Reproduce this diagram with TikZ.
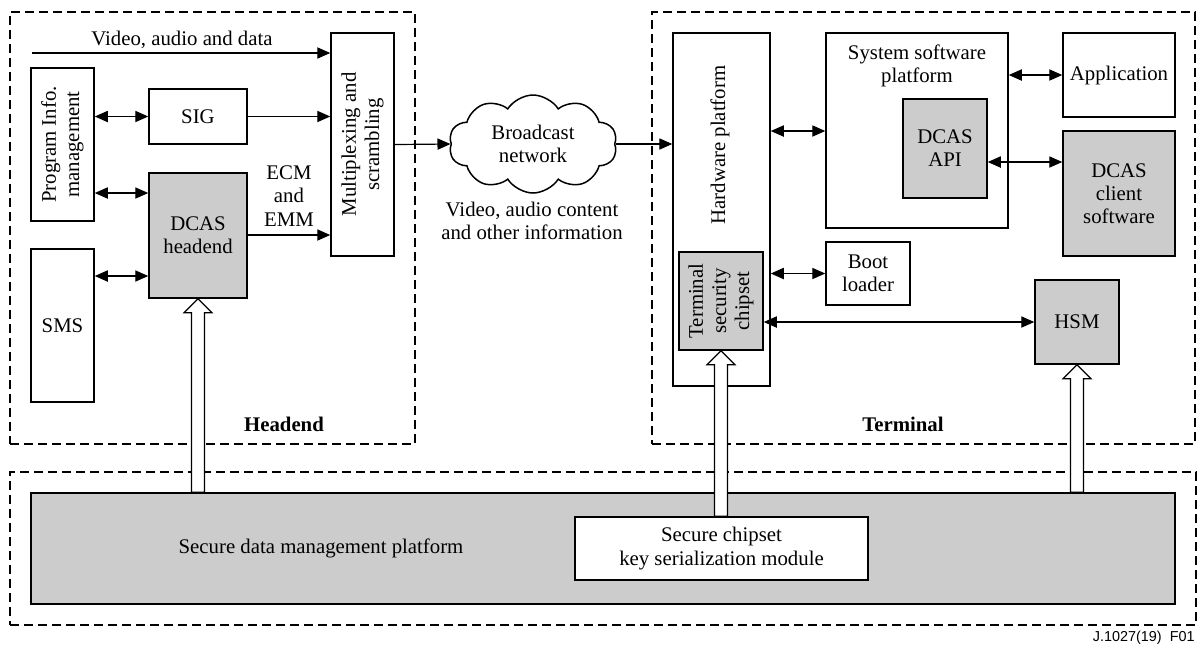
\documentclass[tikz,border=0pt]{standalone}
\usepackage{fontspec}
\setmainfont{Liberation Serif}
\newfontfamily\figsans{Liberation Sans}
\usetikzlibrary{arrows.meta,shapes.symbols,calc}
\definecolor{boxgray}{RGB}{204,204,204}
\tikzset{
  base/.style={font=\fontsize{10.4}{11.6}\selectfont, align=center, inner sep=0pt},
  box/.style={base, draw, line width=0.75pt, fill=white},
  graybox/.style={box, fill=boxgray},
  region/.style={draw, line width=0.6pt, dash pattern=on 4.5pt off 2.5pt, inner sep=0pt},
  lbl/.style={base},
  tip/.tip={Triangle[length=6.5pt,width=5.6pt]},
  one/.style={line width=0.6pt, -tip},
  two/.style={line width=0.6pt, tip-tip},
  hollow/.style={draw, line width=0.6pt, fill=white},
}
\newcommand{\hollowup}[2]{%
  \path[hollow] let \p1=(#1), \p2=(#2) in
    (\x1,\y1) -- (\x1+7pt,\y1-7pt) -- (\x1+3.25pt,\y1-7pt) -- (\x1+3.25pt,\y2)
    -- (\x1-3.25pt,\y2) -- (\x1-3.25pt,\y1-7pt) -- (\x1-7pt,\y1-7pt) -- cycle;}
\begin{document}
\begin{tikzpicture}[x=0.5pt,y=-0.5pt]
\useasboundingbox (0,0) rectangle (1198,645);
% regions
\node[region, minimum width=202.5pt, minimum height=216pt] (headreg) at (212.5,228) {};
\node[region, minimum width=271.5pt, minimum height=216pt] (termreg) at (923.5,228) {};
\node[region, minimum width=593pt, minimum height=76.5pt] (botreg) at (603,548.5) {};
% headend
\node[box, minimum width=31.5pt, minimum height=111.5pt] (mux) at (362.5,144.5) {};
\node[base, rotate=90] at (mux.center) {Multiplexing and\\scrambling};
\node[box, minimum width=31.5pt, minimum height=76.5pt] (pim) at (62.5,144.5) {};
\node[base, rotate=90] at (pim.center) {Program Info.\\management};
\node[box, minimum width=49pt, minimum height=27.5pt] (sig) at (198,116.5) {SIG};
\node[graybox, minimum width=49pt, minimum height=62.5pt] (dcas) at (198,235.5) {DCAS\\headend};
\node[box, minimum width=31.5pt, minimum height=76.5pt] (sms) at (62.5,325.5) {SMS};
\coordinate (vad) at (32,53);
\node[lbl] (vadl) at (182,40) {Video, audio and data};
\node[lbl] (ecm) at (289,196) {ECM\\and\\EMM};
\node[lbl, font=\fontsize{10.4}{11.6}\selectfont\bfseries] (headl) at (284,424) {Headend};
% network
\node[cloud, draw, line width=0.75pt, cloud puffs=10, cloud puff arc=115, minimum width=84pt, minimum height=49pt, inner sep=0pt] (cloud) at (533,144) {};
\node[lbl] (cloudl) at (cloud.center) {Broadcast\\network};
\node[lbl] (vacl) at (532,221) {Video, audio content\\and other information};
% terminal
\node[box, minimum width=48.5pt, minimum height=176.5pt] (hw) at (721.5,209.5) {};
\node[base, rotate=90] (hwl) at (720,145) {Hardware platform};
\node[graybox, minimum width=42pt, minimum height=49pt] (tsc) at (721,301) {};
\node[base, rotate=90] at (tsc.center) {Terminal\\security\\chipset};
\node[box, minimum width=91pt, minimum height=97.5pt] (ssp) at (917,130.5) {};
\node[lbl] (sspl) at (917,66) {System software\\platform};
\node[graybox, minimum width=42pt, minimum height=49.5pt] (api) at (945,148.5) {DCAS\\API};
\node[box, minimum width=56pt, minimum height=42pt] (app) at (1119,75) {Application};
\node[graybox, minimum width=56pt, minimum height=62.5pt] (client) at (1119,193.5) {DCAS\\client\\software};
\node[box, minimum width=42pt, minimum height=31.5pt] (boot) at (868,273.5) {Boot\\loader};
\node[graybox, minimum width=42pt, minimum height=42pt] (hsm) at (1077,322) {HSM};
\node[lbl, font=\fontsize{10.4}{11.6}\selectfont\bfseries] (terml) at (903,424) {Terminal};
% bottom
\node[graybox, minimum width=572pt, minimum height=55.5pt] (sdmp) at (603,548.5) {};
\node[lbl] (sdmpl) at (321,548) {Secure data management platform};
\node[box, minimum width=146.5pt, minimum height=31.5pt] (sck) at (721.5,548.5) {Secure chipset\\key serialization module};
\node[font=\figsans\fontsize{7.2}{8}\selectfont, anchor=east, inner sep=0pt] (fig) at (1195,638) {J.1027(19)\ \ F01};
% connectors
\draw[one] (vad) -- (vad -| mux.west);
\draw[two] (pim.east |- sig.west) -- (sig.west);
\draw[one] (sig.east) -- (sig.east -| mux.west);
\draw[two] (pim.east |- 0,193) -- (dcas.west |- 0,193);
\draw[two] (sms.east |- 0,276) -- (dcas.west |- 0,276);
\draw[one] (dcas.east |- 0,235) -- (mux.west |- 0,235);
\draw[one] (mux.east) -- (cloud.west);
\draw[one] (cloud.east) -- (cloud.east -| hw.west);
\draw[two] (hw.east |- 0,131) -- (ssp.west |- 0,131);
\draw[two] (ssp.east |- app.west) -- (app.west);
\draw[two] (api.east |- 0,162) -- (client.west |- 0,162);
\draw[two] (hw.east |- boot.west) -- (boot.west);
\draw[two] (tsc.east |- hsm.west) -- (hsm.west);
% hollow arrows
\hollowup{dcas.south}{dcas.south |- sdmp.north}
\hollowup{tsc.south}{sck.north}
\hollowup{hsm.south}{hsm.south |- sdmp.north}
\end{tikzpicture}
\end{document}
